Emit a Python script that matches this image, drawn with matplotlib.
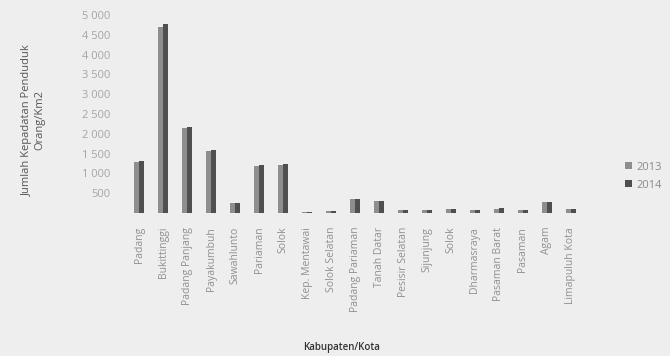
import numpy as np
import matplotlib
matplotlib.use("Agg")
import matplotlib.pyplot as plt
import matplotlib.ticker as mticker

regions = [
    "Padang", "Bukittinggi", "Padang Panjang", "Payakumbuh", "Sawahlunto",
    "Pariaman", "Solok", "Kep. Mentawai", "Solok Selatan", "Padang Pariaman",
    "Tanah Datar", "Pesisir Selatan", "Sijunjung", "Solok", "Dharmasraya",
    "Pasaman Barat", "Pasaman", "Agam", "Limapuluh Kota",
]
density_2013 = [1290, 4700, 2150, 1560, 240, 1190, 1220, 13, 43, 340,
                290, 76, 64, 95, 73, 108, 62, 270, 108]
density_2014 = [1310, 4760, 2170, 1580, 250, 1210, 1230, 14, 45, 350,
                300, 78, 66, 97, 76, 112, 64, 280, 110]
years = ["2013", "2014"]
yticks = [500, 1000, 1500, 2000, 2500, 3000, 3500, 4000, 4500, 5000]

plt.rcParams["font.family"] = ["Open Sans", "DejaVu Sans"]

bg = "#eeeeee"
fig = plt.figure(figsize=(6.7, 3.56), dpi=100, facecolor=bg)
ax = fig.add_axes([0.19, 0.402, 0.68, 0.556], facecolor=bg)

x = np.arange(len(regions))
w = 0.2
ax.bar(x - w / 2, density_2013, width=w, color="#8e8e8e", label=years[0])
ax.bar(x + w / 2, density_2014, width=w, color="#4f4f4f", label=years[1])

ax.set_xlim(-0.5, len(regions) - 0.5)
ax.set_ylim(0, 5000)
ax.set_yticks(yticks)
ax.yaxis.set_major_formatter(
    mticker.FuncFormatter(lambda v, _: f"{int(v):,}".replace(",", " "))
)
ax.set_xticks(x)
ax.set_xticklabels(regions, rotation=90, fontsize=7.5, color="#909090")
ax.tick_params(axis="y", labelsize=8, colors="#a5a5a5", length=0, pad=12)
ax.tick_params(axis="x", length=0, pad=10)
for side in ax.spines.values():
    side.set_visible(False)

ax.set_ylabel("Jumlah Kepadatan Penduduk\nOrang/Km2", fontsize=8,
              color="#555555")
ax.yaxis.set_label_coords(-0.18, 0.47)
fig.text(0.51, 0.008, "Kabupaten/Kota", ha="center", va="bottom",
         fontsize=7, color="#333333", fontweight="semibold")

fig.legend(loc="center left", bbox_to_anchor=(0.918, 0.505), frameon=False,
           fontsize=8, labelcolor="#8a8a8a", handlelength=0.6,
           handleheight=0.6, handletextpad=0.4, labelspacing=0.6)

fig.savefig("out.png", dpi=100, facecolor=bg)
